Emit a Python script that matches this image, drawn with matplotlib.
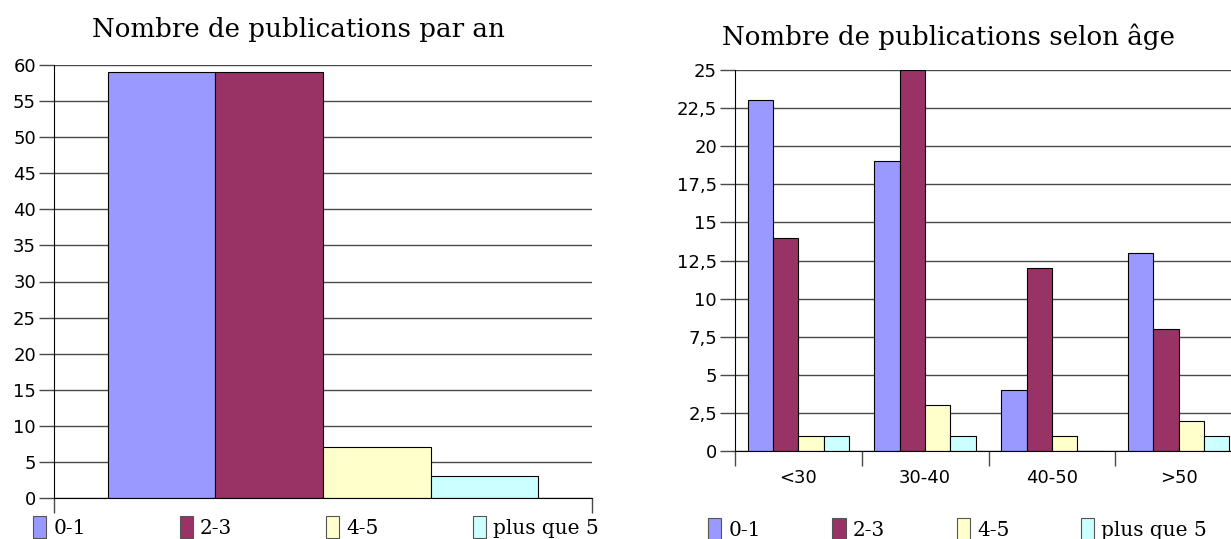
import matplotlib
matplotlib.use("Agg")
import matplotlib.pyplot as plt
from matplotlib.ticker import FuncFormatter
import numpy as np

series = ["0-1", "2-3", "4-5", "plus que 5"]
colors = ["#9999ff", "#993366", "#ffffcc", "#ccffff"]

par_an = [59, 59, 7, 3]

age_groups = ["<30", "30-40", "40-50", ">50"]
age_0_1 = [23, 19, 4, 13]
age_2_3 = [14, 25, 12, 8]
age_4_5 = [1, 3, 1, 2]
age_plus5 = [1, 1, 0, 1]
age_values = [age_0_1, age_2_3, age_4_5, age_plus5]

title_left = "Nombre de publications par an"
title_right = "Nombre de publications selon âge"

W, H = 1231, 539
fig = plt.figure(figsize=(W / 100, H / 100), dpi=100)

grid_col = "#4a4a4a"
serif = "DejaVu Serif"


def px_axes(x0, x1, ytop, ybot):
    return fig.add_axes([x0 / W, (H - ybot) / H, (x1 - x0) / W, (ybot - ytop) / H])


def style(ax):
    for s in ("top", "right"):
        ax.spines[s].set_visible(False)
    ax.spines["left"].set_color("black")
    ax.spines["bottom"].set_color("black")
    ax.yaxis.grid(True, color=grid_col, lw=1)
    ax.set_axisbelow(True)
    ax.tick_params(axis="y", length=11, width=1, color=grid_col, labelsize=13, pad=2)
    ax.tick_params(axis="x", length=11, width=1, color=grid_col, labelsize=13)


leg_kw = dict(loc="center left", mode="expand", ncol=4, frameon=False,
              prop={"family": serif, "size": 14.5},
              handlelength=0.65, handleheight=1.25, handletextpad=0.35,
              borderaxespad=0, borderpad=0)

# Left chart
axL = px_axes(54, 592, 65, 498)
bw = 0.2
for i, (v, c) in enumerate(zip(par_an, colors)):
    axL.bar(-0.3 + i * bw, v, width=bw, color=c, edgecolor="black", lw=0.8, label=series[i])
axL.set_xlim(-0.5, 0.5)
axL.set_ylim(0, 60)
axL.set_yticks(np.arange(0, 61, 5))
axL.set_xticks([-0.5, 0.5])
axL.set_xticklabels(["", ""])
style(axL)
fig.text(298 / W, 1 - 30 / H, title_left, ha="center", va="center", fontsize=18.8, family=serif)
legL = fig.legend(*axL.get_legend_handles_labels(),
                  bbox_to_anchor=(33 / W, 1 - 527 / H, 566 / W, 0), **leg_kw)
for p in legL.get_patches():
    p.set_edgecolor("#555555")

# Right chart
axR = px_axes(735, 1242, 70, 451)
x = np.arange(len(age_groups))
for i, (vals, c) in enumerate(zip(age_values, colors)):
    axR.bar(x - 0.3 + i * bw, vals, width=bw, color=c, edgecolor="black", lw=0.8, label=series[i])
axR.set_xlim(-0.5, len(age_groups) - 0.5)
axR.set_ylim(0, 25)
axR.set_yticks(np.arange(0, 25.01, 2.5))
axR.yaxis.set_major_formatter(FuncFormatter(lambda v, p: ("%g" % v).replace(".", ",")))
axR.set_xticks(np.arange(-0.5, len(age_groups), 1.0))
axR.set_xticklabels([""] * (len(age_groups) + 1))
axR.set_xticks(x, minor=True)
axR.set_xticklabels(age_groups, minor=True)
style(axR)
axR.tick_params(axis="x", which="minor", length=0, labelsize=13, pad=13)
fig.text(949 / W, 1 - 37 / H, title_right, ha="center", va="center", fontsize=18.8, family=serif)
legR = fig.legend(*axR.get_legend_handles_labels(),
                  bbox_to_anchor=(708 / W, 1 - 529 / H, 499 / W, 0), **leg_kw)
for p in legR.get_patches():
    p.set_edgecolor("#555555")

fig.savefig("out.png", dpi=100)
